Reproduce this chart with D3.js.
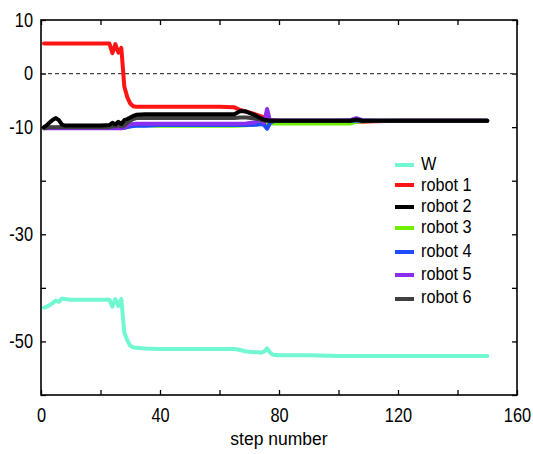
<!DOCTYPE html>
<html>
<head>
<meta charset="utf-8">
<script src="https://cdn.jsdelivr.net/npm/d3@7/dist/d3.min.js"></script>
<style>
  body { margin: 0; background: #fff; }
  svg text { font-family: "Liberation Sans", Arial, Helvetica, sans-serif; fill: #000; }
</style>
</head>
<body>
<svg id="chart" width="533" height="454"></svg>
<script>
// Sampled step numbers shared by every series
const steps = [1,2,3,4,5,6,7,8,10,15,20,23,24,25,26,27,28,29,30,31,32,35,40,50,60,65,67,69,72,73,74,75,76,77,78,80,90,100,104,106,108,112,120,130,140,150];

const wValues = [-43.7,-43.5,-43.2,-42.8,-42.4,-42.6,-42.0,-42.1,-42.2,-42.2,-42.2,-42.2,-43.5,-42.1,-43.4,-42.1,-48.3,-49.8,-50.8,-51.1,-51.2,-51.3,-51.4,-51.4,-51.4,-51.4,-51.6,-51.9,-52.0,-52.0,-52.1,-51.9,-51.3,-52.1,-52.5,-52.6,-52.6,-52.7,-52.7,-52.7,-52.7,-52.7,-52.7,-52.7,-52.7,-52.7];
const robot1 = [5.6,5.6,5.6,5.6,5.6,5.6,5.6,5.6,5.6,5.6,5.6,5.6,3.8,5.5,3.9,4.8,-2.4,-4.4,-5.6,-6.1,-6.2,-6.2,-6.2,-6.2,-6.2,-6.3,-6.8,-7.1,-7.6,-7.8,-8.0,-8.2,-8.4,-8.6,-8.7,-8.8,-8.8,-8.8,-8.8,-9.0,-9.0,-8.9,-8.8,-8.8,-8.8,-8.8];
const robot2 = [-10.0,-9.6,-9.1,-8.6,-8.3,-8.7,-9.5,-9.7,-9.7,-9.7,-9.7,-9.6,-9.2,-9.5,-9.0,-9.4,-8.7,-8.5,-8.2,-7.9,-7.7,-7.6,-7.6,-7.6,-7.6,-7.6,-7.0,-7.1,-7.8,-8.1,-8.4,-8.6,-8.7,-8.8,-8.8,-8.8,-8.8,-8.8,-8.8,-8.6,-8.8,-8.8,-8.8,-8.8,-8.8,-8.8];
const robot3 = [-10.1,-10.1,-10.1,-10.1,-10.1,-10.1,-10.1,-10.1,-10.1,-10.1,-10.1,-10.1,-10.1,-10.1,-10.1,-10.1,-10.1,-10.0,-9.8,-9.7,-9.65,-9.65,-9.72,-9.72,-9.72,-9.72,-9.7,-9.65,-9.5,-9.4,-9.4,-9.3,-9.3,-9.3,-9.3,-9.3,-9.3,-9.3,-9.3,-9.0,-8.9,-8.8,-8.8,-8.8,-8.8,-8.8];
const robot4 = [-10.1,-10.1,-10.1,-10.1,-10.1,-10.1,-10.1,-10.1,-10.1,-10.1,-10.1,-10.1,-10.1,-10.1,-10.1,-10.1,-10.1,-10.0,-9.9,-9.8,-9.75,-9.75,-9.62,-9.6,-9.6,-9.6,-9.6,-9.6,-9.55,-9.5,-9.4,-9.6,-10.3,-9.2,-8.9,-8.8,-8.8,-8.8,-8.8,-8.8,-8.8,-8.8,-8.8,-8.8,-8.8,-8.8];
const robot5 = [-10.2,-10.2,-10.2,-10.2,-10.2,-10.2,-10.2,-10.2,-10.2,-10.2,-10.2,-10.2,-10.2,-10.2,-10.2,-10.2,-10.1,-9.7,-9.5,-9.4,-9.35,-9.35,-9.35,-9.35,-9.35,-9.35,-9.35,-9.3,-9.1,-8.7,-8.9,-9.2,-6.6,-8.9,-8.7,-8.8,-8.8,-8.8,-8.7,-8.3,-8.7,-8.8,-8.8,-8.8,-8.8,-8.8];
const robot6 = [-10.2,-10.1,-10.0,-10.0,-10.0,-10.0,-10.0,-10.0,-10.0,-10.0,-10.0,-10.0,-9.8,-9.9,-9.6,-9.9,-9.7,-9.2,-8.8,-8.5,-8.3,-8.3,-8.3,-8.3,-8.3,-8.3,-8.2,-8.2,-8.4,-8.5,-8.6,-8.8,-8.8,-8.8,-8.8,-8.8,-8.8,-8.8,-8.8,-8.6,-8.8,-8.8,-8.8,-8.8,-8.8,-8.8];

const seriesNames = ["W","robot 1","robot 2","robot 3","robot 4","robot 5","robot 6"];
const seriesColors = ["#72f7d3","#ff1414","#000000","#6ef000","#1f4cff","#8a2ff0","#404040"];
const seriesValues = [wValues, robot1, robot2, robot3, robot4, robot5, robot6];

const xTicks = [0,20,40,60,80,100,120,140,160];
const xTickLabels = [0,40,80,120,160];
const yTicks = [10,0,-10,-20,-30,-40,-50,-60];
const yTickLabels = [10,0,-10,-30,-50];
const xTitle = "step number";

// ---- layout ----
const L = 41, R = 517, T = 20, B = 395;
const tickSquash = 0.84;   // narrow tick-label glyphs
const legendSquash = 0.93;
const svg = d3.select("#chart");
const x = d3.scaleLinear().domain([0,160]).range([L,R]);
const y = d3.scaleLinear().domain([-60,10]).range([B,T]);

const fmtX = d => xTickLabels.includes(d) ? String(d) : "";
const fmtY = d => yTickLabels.includes(d) ? String(d) : "";

function styleAxis(g) {
  g.select(".domain").remove();
  g.selectAll(".tick line").attr("stroke","#000").attr("stroke-width",1.3);
  g.selectAll(".tick text")
    .style("font-size","19.5px").attr("fill","#000")
    .attr("transform",`scale(${tickSquash},1)`);
}

svg.append("g").attr("transform",`translate(0,${B})`)
  .call(d3.axisBottom(x).tickValues(xTicks).tickFormat(fmtX).tickSizeInner(-5).tickSizeOuter(0).tickPadding(13))
  .call(styleAxis);
svg.append("g").attr("transform",`translate(0,${T})`)
  .call(d3.axisTop(x).tickValues(xTicks).tickFormat(() => "").tickSizeInner(-5).tickSizeOuter(0))
  .call(styleAxis);
svg.append("g").attr("transform",`translate(${L},0)`)
  .call(d3.axisLeft(y).tickValues(yTicks).tickFormat(fmtY).tickSizeInner(-5).tickSizeOuter(0).tickPadding(9.5))
  .call(styleAxis);
svg.append("g").attr("transform",`translate(${R},0)`)
  .call(d3.axisRight(y).tickValues(yTicks).tickFormat(() => "").tickSizeInner(-5).tickSizeOuter(0))
  .call(styleAxis);

// zero reference line
svg.append("line")
  .attr("x1",L).attr("x2",R).attr("y1",y(0)).attr("y2",y(0))
  .attr("stroke","#444").attr("stroke-width",1.3).attr("stroke-dasharray","4,3");

// series lines (robot 2 drawn last so it sits on top)
const drawOrder = [0,1,3,4,5,6,2];
const line = d3.line().x(d => x(d[0])).y(d => y(d[1]));
drawOrder.forEach(i => {
  const pts = steps.map((s,k) => [s, seriesValues[i][k]]);
  svg.append("path").datum(pts)
    .attr("d", line)
    .attr("fill","none")
    .attr("stroke", seriesColors[i])
    .attr("stroke-width", 4)
    .attr("stroke-linejoin","round")
    .attr("stroke-linecap","round");
});

// frame
svg.append("rect").attr("x",L).attr("y",T).attr("width",R-L).attr("height",B-T)
  .attr("fill","none").attr("stroke","#000").attr("stroke-width",1.6);

// x axis title
svg.append("text").attr("x",(L+R)/2).attr("y",445)
  .attr("text-anchor","middle").style("font-size","17.5px").text(xTitle);

// legend
const legendLineY = [165,185,207,228,252,275,299];
const legendTextY = [170,191,212,233,257,280,303];
const legend = svg.append("g");
seriesNames.forEach((name,i) => {
  legend.append("line")
    .attr("x1",395).attr("x2",414)
    .attr("y1",legendLineY[i]).attr("y2",legendLineY[i])
    .attr("stroke",seriesColors[i]).attr("stroke-width",4);
  legend.append("text")
    .attr("transform",`translate(421,${legendTextY[i]}) scale(${legendSquash},1)`)
    .style("font-size","17.5px").text(name);
});
</script>
</body>
</html>
